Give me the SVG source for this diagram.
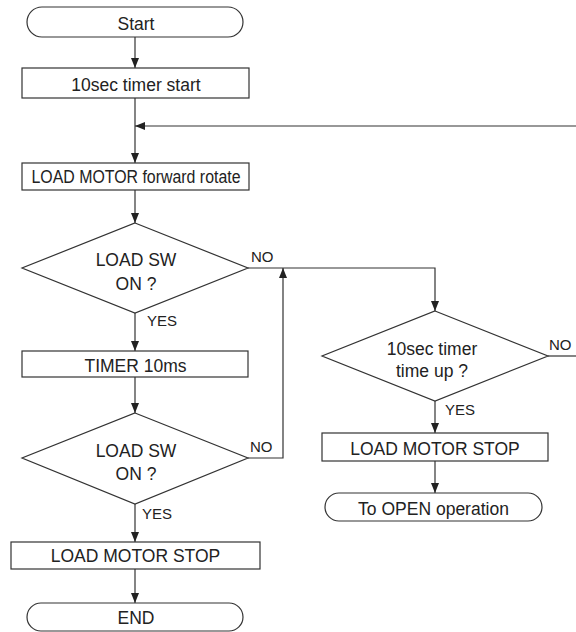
<svg xmlns="http://www.w3.org/2000/svg" width="576" height="632" viewBox="0 0 576 632">
<style>
.box{fill:#fff;stroke:#333;stroke-width:1.2}
.ln{fill:none;stroke:#333;stroke-width:1.2}
.t{font-family:"Liberation Sans",Arial,sans-serif;font-size:17.5px;fill:#222;text-anchor:middle}
.lb{font-family:"Liberation Sans",Arial,sans-serif;font-size:15px;fill:#222}
</style>
<defs>
<marker id="ah" markerUnits="userSpaceOnUse" markerWidth="10" markerHeight="8" refX="10" refY="4" orient="auto">
<path d="M0,0 L10,4 L0,8 z" fill="#222"/>
</marker>
</defs>
<rect width="576" height="632" fill="#fff"/>
<g id="connectors">
<line class="ln" x1="135" y1="37" x2="135" y2="68" marker-end="url(#ah)"/>
<line class="ln" x1="135" y1="98" x2="135" y2="163" marker-end="url(#ah)"/>
<line class="ln" x1="576" y1="126" x2="135" y2="126" marker-end="url(#ah)"/>
<line class="ln" x1="135" y1="190" x2="135" y2="223" marker-end="url(#ah)"/>
<line class="ln" x1="135" y1="313" x2="135" y2="351" marker-end="url(#ah)"/>
<line class="ln" x1="135" y1="377" x2="135" y2="413" marker-end="url(#ah)"/>
<line class="ln" x1="135" y1="504" x2="135" y2="542" marker-end="url(#ah)"/>
<line class="ln" x1="135" y1="569" x2="135" y2="603" marker-end="url(#ah)"/>
<polyline class="ln" points="248,268 435,268 435,311" marker-end="url(#ah)"/>
<polyline class="ln" points="248,458 283,458 283,268" marker-end="url(#ah)"/>
<line class="ln" x1="548" y1="356" x2="576" y2="356"/>
<line class="ln" x1="435" y1="401" x2="435" y2="433" marker-end="url(#ah)"/>
<line class="ln" x1="435" y1="461" x2="435" y2="493" marker-end="url(#ah)"/>
<text class="lb" x="147" y="326">YES</text>
<text class="lb" x="251" y="262">NO</text>
<text class="lb" x="250" y="452">NO</text>
<text class="lb" x="142" y="519">YES</text>
<text class="lb" x="549" y="350">NO</text>
<text class="lb" x="445" y="415">YES</text>
</g>
<g id="start">
<rect class="box" x="27" y="7" width="216" height="30" rx="15"/>
<text class="t" x="136" y="30">Start</text>
</g>
<g id="timer-start">
<rect class="box" x="22" y="68" width="227" height="30"/>
<text class="t" x="136" y="91">10sec timer start</text>
</g>
<g id="motor-forward">
<rect class="box" x="22" y="163" width="227" height="27"/>
<text class="t" x="136" y="183" textLength="209" lengthAdjust="spacingAndGlyphs">LOAD MOTOR forward rotate</text>
</g>
<g id="sw-check-1">
<polygon class="box" points="135,223 248,268 135,313 22,268"/>
<text class="t" x="136" y="266">LOAD SW</text>
<text class="t" x="136" y="290">ON ?</text>
</g>
<g id="timer-10ms">
<rect class="box" x="22" y="351" width="226" height="26"/>
<text class="t" x="135.5" y="372">TIMER 10ms</text>
</g>
<g id="sw-check-2">
<polygon class="box" points="135,413 248,458 135,504 22,458"/>
<text class="t" x="136" y="457">LOAD SW</text>
<text class="t" x="136" y="480">ON ?</text>
</g>
<g id="motor-stop-1">
<rect class="box" x="11" y="542" width="249" height="27"/>
<text class="t" x="135.5" y="562">LOAD MOTOR STOP</text>
</g>
<g id="end">
<rect class="box" x="27" y="603" width="216" height="28" rx="14"/>
<text class="t" x="136" y="624">END</text>
</g>
<g id="timeup-check">
<polygon class="box" points="435,311 548,356 435,401 322,356"/>
<text class="t" x="432" y="355">10sec timer</text>
<text class="t" x="432" y="377">time up ?</text>
</g>
<g id="motor-stop-2">
<rect class="box" x="322" y="433" width="226" height="28"/>
<text class="t" x="435" y="455">LOAD MOTOR STOP</text>
</g>
<g id="to-open">
<rect class="box" x="325" y="493" width="217" height="28" rx="14"/>
<text class="t" x="433.5" y="515">To OPEN operation</text>
</g>
</svg>
